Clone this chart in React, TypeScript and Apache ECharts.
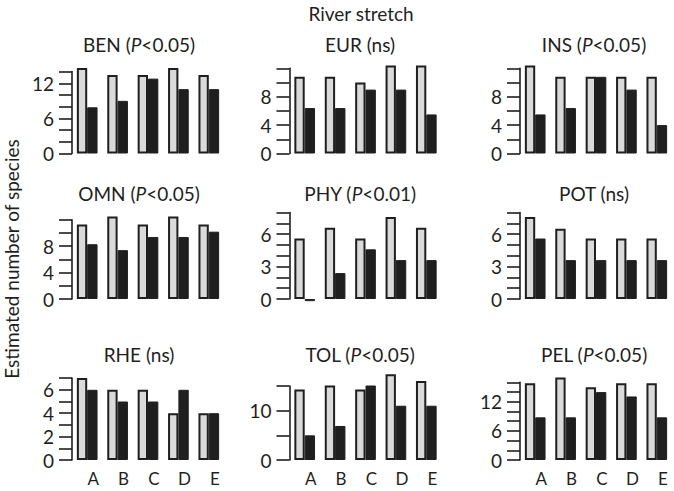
import React, { useEffect, useRef } from 'react';
import * as echarts from 'echarts';

// ---- data ----
const categories = ['A', 'B', 'C', 'D', 'E'];

const panelNames = ['BEN', 'EUR', 'INS', 'OMN', 'PHY', 'POT', 'RHE', 'TOL', 'PEL'];
const panelTests = ['P<0.05', 'ns', 'P<0.05', 'P<0.05', 'P<0.01', 'ns', 'ns', 'P<0.05', 'P<0.05'];

const BEN_light = [14.6, 13.4, 13.4, 14.6, 13.4];
const BEN_dark = [7.9, 9.0, 12.8, 11.0, 11.0];
const EUR_light = [10.8, 10.8, 10.0, 12.4, 12.4];
const EUR_dark = [6.4, 6.4, 9.0, 9.0, 5.5];
const INS_light = [12.4, 10.8, 10.8, 10.8, 10.8];
const INS_dark = [5.5, 6.4, 10.8, 9.0, 4.0];
const OMN_light = [11.3, 12.5, 11.3, 12.5, 11.3];
const OMN_dark = [8.3, 7.4, 9.4, 9.4, 10.2];
const PHY_light = [5.6, 6.6, 5.6, 7.6, 6.6];
const PHY_dark = [-0.2, 2.4, 4.6, 3.6, 3.6];
const POT_light = [7.6, 6.5, 5.6, 5.6, 5.6];
const POT_dark = [5.6, 3.6, 3.6, 3.6, 3.6];
const RHE_light = [7, 6, 6, 4, 4];
const RHE_dark = [6, 5, 5, 6, 4];
const TOL_light = [14.3, 15.1, 14.3, 17.4, 16.0];
const TOL_dark = [5.0, 6.9, 15.1, 11.0, 11.0];
const PEL_light = [15.8, 17.0, 15.0, 15.8, 15.8];
const PEL_dark = [8.8, 8.8, 14.0, 13.1, 8.8];

const lightValues = [BEN_light, EUR_light, INS_light, OMN_light, PHY_light, POT_light, RHE_light, TOL_light, PEL_light];
const darkValues = [BEN_dark, EUR_dark, INS_dark, OMN_dark, PHY_dark, POT_dark, RHE_dark, TOL_dark, PEL_dark];

// y-axis ticks: max, interval, and the labelled tick values
const axisMax = [14, 12, 12, 12, 8, 8, 7, 15, 16];
const axisInterval = [2, 2, 2, 2, 1, 1, 1, 5, 2];
const tickLabels = [
  [0, 6, 12], [0, 4, 8], [0, 4, 8],
  [0, 4, 8], [0, 3, 6], [0, 3, 6],
  [0, 2, 4, 6], [0, 10], [0, 6, 12],
];

// ---- layout ----
const colLeft = [72, 289.5, 520];
const gridWidth = 152;
const rowBase = [153.5, 299, 460];
const gridHeights = [81.9, 85.2, 85.2, 79.2, 86.4, 86.4, 81.9, 74, 77.6];
const titleX = [139, 360, 594];
const titleY = [44, 193, 354];

const INK = '#1f1f1f';
const LIGHT = '#dadada';
const FONT = 'Lato';

export default function App() {
  const ref = useRef<HTMLDivElement>(null);
  useEffect(() => {
    if (!ref.current) return;
    const chart = echarts.init(ref.current, undefined, { renderer: 'svg' });

    const grid: any[] = [];
    const xAxis: any[] = [];
    const yAxis: any[] = [];
    const series: any[] = [];
    const graphic: any[] = [];

    panelNames.forEach((name, i) => {
      const row = Math.floor(i / 3);
      const col = i % 3;
      const h = gridHeights[i];
      grid.push({ left: colLeft[col], top: rowBase[row] - h, width: gridWidth, height: h });
      xAxis.push({
        type: 'category',
        gridIndex: i,
        data: categories,
        axisLine: { show: false },
        axisTick: { show: false },
        axisLabel: {
          show: row === 2,
          fontSize: 17,
          fontFamily: FONT,
          color: INK,
          margin: 10,
          padding: [0, 0, 0, 12],
        },
      });
      const labs = tickLabels[i];
      yAxis.push({
        type: 'value',
        gridIndex: i,
        min: 0,
        max: axisMax[i],
        interval: axisInterval[i],
        axisLine: { show: true, lineStyle: { color: INK, width: 1.6 } },
        axisTick: { show: true, length: 13, lineStyle: { color: INK, width: 1.6 } },
        splitLine: { show: false },
        axisLabel: {
          fontSize: 19,
          fontFamily: FONT,
          color: INK,
          margin: 18,
          formatter: (v: number) => (labs.indexOf(v) >= 0 ? String(v) : ''),
        },
      });
      series.push({
        type: 'bar',
        name: name + ' light',
        xAxisIndex: i,
        yAxisIndex: i,
        data: lightValues[i],
        barGap: '0%',
        barCategoryGap: '32%',
        clip: false,
        silent: true,
        itemStyle: { color: LIGHT, borderColor: INK, borderWidth: 2 },
      });
      series.push({
        type: 'bar',
        name: name + ' dark',
        xAxisIndex: i,
        yAxisIndex: i,
        data: darkValues[i],
        barGap: '0%',
        barCategoryGap: '32%',
        clip: false,
        silent: true,
        itemStyle: { color: INK, borderColor: INK, borderWidth: 1 },
      });

      const test = panelTests[i];
      const text = test.startsWith('P')
        ? `{n|${name} (}{i|P}{n|${test.slice(1)})}`
        : `{n|${name} (${test})}`;
      graphic.push({
        type: 'text',
        x: titleX[col],
        y: titleY[row],
        style: {
          text,
          align: 'center',
          verticalAlign: 'middle',
          textAlign: 'center',
          textVerticalAlign: 'middle',
          fontSize: 19,
          fontFamily: FONT,
          fill: INK,
          rich: {
            n: { fontSize: 19, fontFamily: FONT, fill: INK, color: INK },
            i: { fontSize: 19, fontFamily: FONT, fontStyle: 'italic', fill: INK, color: INK },
          },
        },
      });
    });

    graphic.push({
      type: 'text',
      x: 361,
      y: 13,
      style: {
        text: 'River stretch',
        align: 'center',
        verticalAlign: 'middle',
        textAlign: 'center',
        textVerticalAlign: 'middle',
        fontSize: 19,
        fontFamily: FONT,
        fill: INK,
      },
    });
    graphic.push({
      type: 'text',
      x: 11,
      y: 259,
      rotation: Math.PI / 2,
      style: {
        text: 'Estimated number of species',
        align: 'center',
        verticalAlign: 'middle',
        textAlign: 'center',
        textVerticalAlign: 'middle',
        fontSize: 19,
        fontFamily: FONT,
        fill: INK,
      },
    });

    chart.setOption({
      animation: false,
      backgroundColor: '#ffffff',
      textStyle: { fontFamily: FONT },
      grid,
      xAxis,
      yAxis,
      series,
      graphic,
    });
    return () => chart.dispose();
  }, []);
  return (
    <div
      ref={ref}
      style={{ position: 'fixed', left: 0, top: 0, width: 674, height: 491 }}
    />
  );
}
